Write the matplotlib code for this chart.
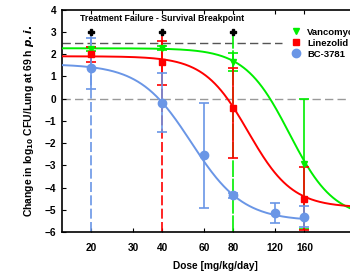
import numpy as np
import matplotlib
matplotlib.use("Agg")
import matplotlib.pyplot as plt
from matplotlib.lines import Line2D

plt.rcParams['font.family'] = ['Liberation Sans', 'DejaVu Sans']
plt.rcParams['font.weight'] = 'bold'

# ---- data ----
doses = [20, 40, 80, 160]
bc_doses = [20, 40, 60, 80, 120, 160]

vanco_y = [2.22, 2.29, 1.66, -2.92]
vanco_lo = [2.12, 2.20, 1.24, -5.85]
vanco_hi = [2.32, 2.38, 2.04, -0.02]

linez_y = [1.99, 1.66, -0.44, -4.50]
linez_lo = [1.63, 0.61, -2.65, -5.90]
linez_hi = [2.33, 2.60, 1.36, -3.07]

bc_y = [1.36, -0.19, -2.55, -4.35, -5.13, -5.31]
bc_lo = [0.41, -1.50, -4.92, -4.45, -5.59, -5.78]
bc_hi = [2.71, 1.16, -0.19, -4.25, -4.69, -4.84]

# Hill-fit parameters (top, bottom, EC50, slope)
vanco_fit = (2.26, -5.4, 138.0, 4.6)
linez_fit = (1.90, -4.9, 92.4, 4.64)
bc_fit = (1.55, -5.5, 53.0, 3.97)

breakpoint_doses = [20, 40, 80]
breakpoint_y = 3.0
failure_level = 2.5
stasis_level = 0.0

xticks = [20, 30, 40, 60, 80, 120, 160]
yticks = list(range(-6, 5))

GREEN = '#00ee00'
RED = '#ff0000'
BLUE = '#6a96e6'


def hill(x, p):
    top, bot, ec50, h = p
    return bot + (top - bot) / (1.0 + (x / ec50) ** h)


fig = plt.figure(figsize=(3.5, 2.73), dpi=100)
ax = fig.add_axes([0.177, 0.150, 0.877, 0.815])
ax.set_xscale('log')
ax.set_xlim(15, 300)
ax.set_ylim(-6, 4)

# reference lines
ax.axhline(stasis_level, color='#999999', lw=1.0, ls=(0, (6, 3)), zorder=1)
ax.plot([15, 128], [failure_level, failure_level], color='#555555', lw=1.0,
        ls=(0, (6, 3)), zorder=1)

# vertical breakpoint lines
vstyles = [(BLUE, (0, (6, 2))), (RED, (0, (6, 2))), (GREEN, (0, (10, 1)))]
for d, (c, ls) in zip(breakpoint_doses, vstyles):
    ax.plot([d, d], [-6, breakpoint_y], color=c, lw=1.2, ls=ls, zorder=2)
ax.plot(breakpoint_doses, [breakpoint_y] * 3, ls='none', marker='P', color='black',
        ms=5, zorder=6)
ax.text(40, 3.4, 'Treatment Failure - Survival Breakpoint', fontsize=6.3,
        fontweight='bold', ha='center', va='bottom')

# fit curves
xx = np.logspace(np.log10(15), np.log10(300), 300)
ax.plot(xx, hill(xx, vanco_fit), color=GREEN, lw=1.4, zorder=3)
ax.plot(xx, hill(xx, linez_fit), color=RED, lw=1.4, zorder=3)
xb = np.logspace(np.log10(15), np.log10(162), 200)
ax.plot(xb, hill(xb, bc_fit), color=BLUE, lw=1.4, zorder=3)


def eb(x, y, lo, hi, c, m, ms):
    y = np.array(y)
    err = [y - np.array(lo), np.array(hi) - y]
    ax.errorbar(x, y, yerr=err, fmt=m, color=c, ms=ms, capsize=3.5, elinewidth=1.2,
                capthick=1.2, zorder=4)


eb(doses, vanco_y, vanco_lo, vanco_hi, GREEN, 'v', 5)
eb(doses, linez_y, linez_lo, linez_hi, RED, 's', 5)
eb(bc_doses, bc_y, bc_lo, bc_hi, BLUE, 'o', 6)

handles = [Line2D([], [], ls='none', marker='v', color=GREEN, ms=5),
           Line2D([], [], ls='none', marker='s', color=RED, ms=5),
           Line2D([], [], ls='none', marker='o', color=BLUE, ms=6)]
leg = ax.legend(handles, ['Vancomycin', 'Linezolid', 'BC-3781'], loc='upper left',
                bbox_to_anchor=(0.735, 0.935), frameon=False,
                fontsize=6.8, handlelength=1.0, handletextpad=0.7,
                borderaxespad=0, labelspacing=0.2)
for t in leg.get_texts():
    t.set_fontweight('bold')

ax.text(250, 0.22, 'Stasis', fontsize=6.8, fontweight='bold', ha='left', va='bottom')

ax.set_xticks(xticks)
ax.set_xticklabels([str(v) for v in xticks])
ax.xaxis.set_minor_locator(matplotlib.ticker.NullLocator())
ax.set_yticks(yticks)
ax.tick_params(axis='both', direction='in', length=3, width=0.8, labelsize=7.3)
ax.tick_params(axis='x', top=True, pad=8)
ax.tick_params(axis='y', pad=4)
for lab in ax.get_xticklabels() + ax.get_yticklabels():
    lab.set_fontweight('bold')
for s in ax.spines.values():
    s.set_linewidth(1.2)

ax.set_xlabel('Dose [mg/kg/day]', fontsize=7.3, fontweight='bold', labelpad=6)
ax.set_ylabel(r'Change in log$_{\mathbf{10}}$ CFU/Lung at 69 h $\it{p.i.}$', fontsize=7.5,
              fontweight='bold', labelpad=6)

fig.savefig('out.png', dpi=100)
